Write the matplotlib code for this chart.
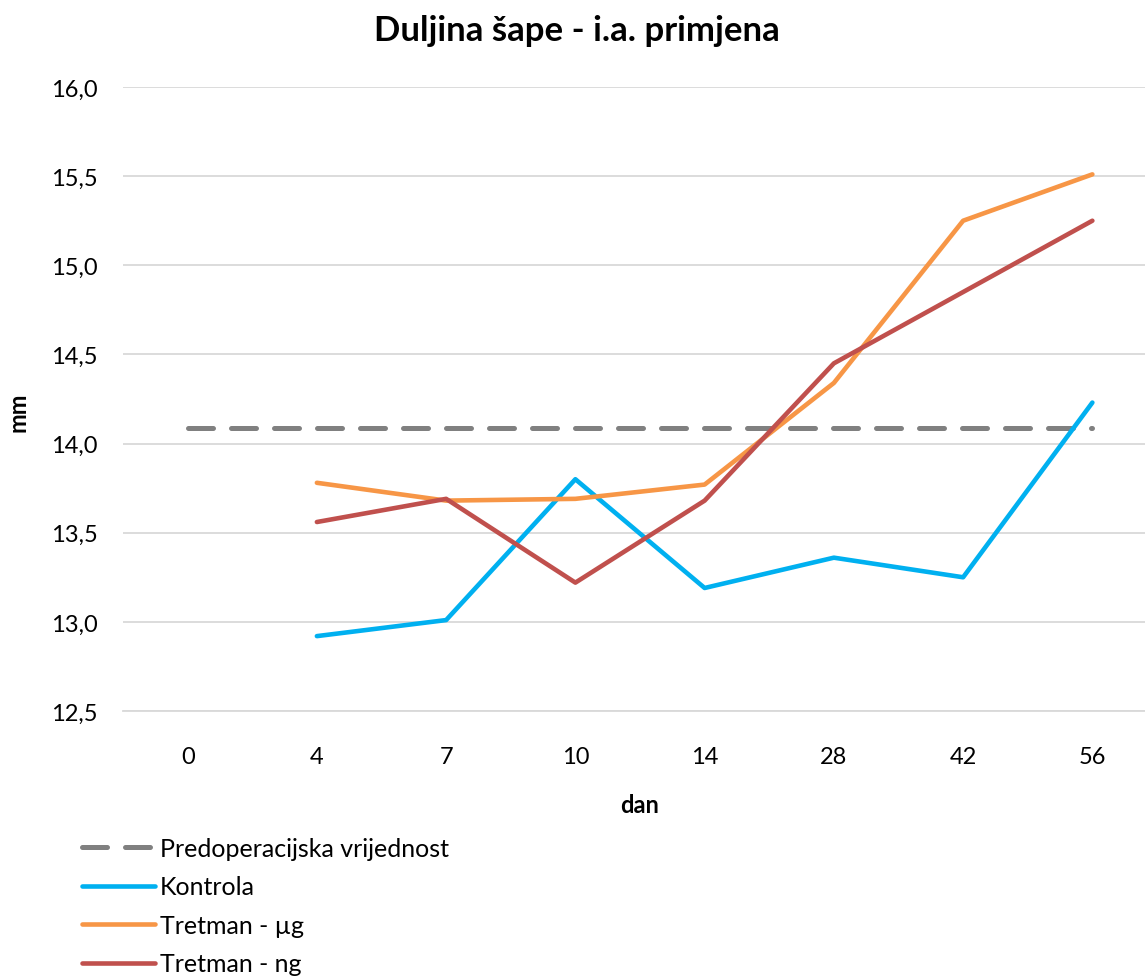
import matplotlib.pyplot as plt

plt.rcParams['font.family'] = ['Lato', 'DejaVu Sans']

days = ["0", "4", "7", "10", "14", "28", "42", "56"]
baseline = [14.09] * 8
kontrola = [None, 12.92, 13.01, 13.80, 13.19, 13.36, 13.25, 14.23]
tretman_ug = [None, 13.78, 13.68, 13.69, 13.77, 14.34, 15.25, 15.51]
tretman_ng = [None, 13.56, 13.69, 13.22, 13.68, 14.45, 14.85, 15.25]
yticks = [12.5, 13.0, 13.5, 14.0, 14.5, 15.0, 15.5, 16.0]

x = list(range(len(days)))

fig = plt.figure(figsize=(11.45, 9.78), dpi=100)
ax = fig.add_axes([123 / 1145, 1 - 712 / 978, (1157 - 123) / 1145, (712 - 88) / 978])

ax.plot(x, baseline, color='#808080', lw=3.6, ls=(0, (5, 3.6)),
        dash_capstyle='round', label='Predoperacijska vrijednost')


def clean(vals):
    xs = [i for i, v in zip(x, vals) if v is not None]
    ys = [v for v in vals if v is not None]
    return xs, ys


for vals, col, lab in [(kontrola, '#00B0F0', 'Kontrola'),
                       (tretman_ug, '#F79646', 'Tretman - µg'),
                       (tretman_ng, '#C0504D', 'Tretman - ng')]:
    xs, ys = clean(vals)
    ax.plot(xs, ys, color=col, lw=3.3, solid_capstyle='round',
            solid_joinstyle='round', label=lab)

ax.set_xlim(-0.5, 7.5)
ax.set_ylim(12.5, 16.0)
ax.set_xticks(x)
ax.set_xticklabels(days)
ax.set_yticks(yticks)
ax.set_yticklabels([f"{v:.1f}".replace('.', ',') for v in yticks])
ax.tick_params(axis='both', length=0, labelsize=17, colors='#000000')
ax.tick_params(axis='x', pad=25)
ax.tick_params(axis='y', pad=18)
ax.grid(axis='y', color='#d9d9d9', lw=1.3)
ax.set_axisbelow(True)
for s in ['top', 'right', 'left']:
    ax.spines[s].set_visible(False)
ax.spines['bottom'].set_color('#d9d9d9')
ax.spines['bottom'].set_linewidth(1.3)

fig.text(577 / 1145, 1 - 31 / 978, 'Duljina šape - i.a. primjena', ha='center',
         va='center', fontsize=25, fontweight='bold')
fig.text(640 / 1145, 1 - 806 / 978, 'dan', ha='center', va='center',
         fontsize=17, fontweight='bold')
fig.text(18 / 1145, 1 - 412 / 978, 'mm', ha='center', va='center',
         fontsize=17, fontweight='bold', rotation=90)

fig.legend(loc='upper left', bbox_to_anchor=(82 / 1145, 1 - 838 / 978),
           frameon=False, fontsize=18, handlelength=2.9, handletextpad=0.2,
           labelspacing=0.62, borderaxespad=0, borderpad=0)

fig.savefig('out.png', dpi=100)
